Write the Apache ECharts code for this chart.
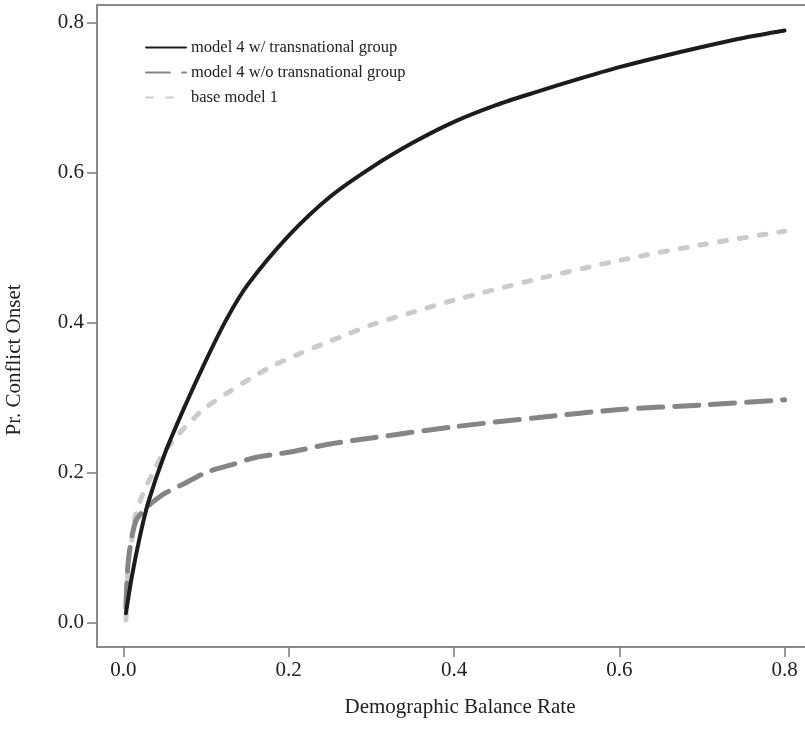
<!DOCTYPE html>
<html>
<head>
<meta charset="utf-8">
<script src="https://cdn.jsdelivr.net/npm/echarts@6/dist/echarts.min.js"></script>
<style>html,body{margin:0;padding:0;background:#fff;overflow:hidden}#c{width:805px;height:745px}</style>
</head>
<body>
<div id="c"></div>
<script>
var seriesNames = ['model 4 w/ transnational group', 'model 4 w/o transnational group', 'base model 1'];
var tickValues = [0, 0.2, 0.4, 0.6, 0.8];

var withGroup = [
  [0.003, 0.012], [0.01, 0.06], [0.02, 0.115], [0.03, 0.16], [0.05, 0.225], [0.075, 0.29],
  [0.1, 0.35], [0.125, 0.405], [0.15, 0.45], [0.2, 0.516], [0.25, 0.568], [0.3, 0.607],
  [0.35, 0.64], [0.4, 0.668], [0.45, 0.69], [0.5, 0.708], [0.55, 0.725], [0.6, 0.741],
  [0.65, 0.755], [0.7, 0.768], [0.75, 0.78], [0.8, 0.79]
];
var withoutGroup = [
  [0.003, 0.02], [0.005, 0.07], [0.008, 0.10], [0.015, 0.135], [0.025, 0.15], [0.035, 0.16],
  [0.05, 0.172], [0.075, 0.186], [0.1, 0.2], [0.13, 0.21], [0.16, 0.22], [0.2, 0.227],
  [0.25, 0.238], [0.3, 0.246], [0.4, 0.261], [0.5, 0.273], [0.6, 0.284], [0.7, 0.29], [0.8, 0.297]
];
var baseModel = [
  [0.003, 0.003], [0.006, 0.08], [0.01, 0.11], [0.014, 0.14], [0.024, 0.173], [0.036, 0.2],
  [0.048, 0.225], [0.066, 0.25], [0.083, 0.27], [0.1, 0.287], [0.127, 0.307], [0.153, 0.325],
  [0.18, 0.342], [0.21, 0.357], [0.24, 0.371], [0.27, 0.384], [0.3, 0.397], [0.35, 0.414],
  [0.4, 0.43], [0.5, 0.458], [0.6, 0.483], [0.7, 0.504], [0.8, 0.522]
];

var FONT = '"Liberation Serif", "DejaVu Serif", serif';
var FRAME = '#8a8a8a';
var chart = echarts.init(document.getElementById('c'), null, {renderer: 'canvas'});
var axisCommon = {
  axisLine: {show: true, onZero: false, lineStyle: {color: FRAME, width: 2}},
  splitLine: {show: false},
  axisTick: {show: true, length: 10, lineStyle: {color: '#7a7a7a', width: 1.5}, customValues: tickValues},
  axisLabel: {color: '#222', fontFamily: FONT, fontSize: 21, margin: 13, customValues: tickValues,
    formatter: function (v) { return v.toFixed(1); }}
};
chart.setOption({
  animation: false,
  backgroundColor: '#fff',
  grid: {left: 97, top: 5, right: -6, bottom: 98, outerBoundsMode: 'none', containLabel: false, show: false},
  legend: {
    orient: 'vertical', left: 140, top: 34, itemWidth: 40, itemHeight: 14, itemGap: 8,
    itemStyle: {color: 'rgba(0,0,0,0)', borderWidth: 0, opacity: 0},
    textStyle: {fontFamily: FONT, fontSize: 16.5, color: '#222'},
    data: seriesNames
  },
  xAxis: [
    Object.assign({}, axisCommon, {
      type: 'value', min: -0.032, max: 0.832, position: 'bottom',
      name: 'Demographic Balance Rate', nameLocation: 'middle', nameGap: 50,
      nameTextStyle: {fontFamily: FONT, fontSize: 21, color: '#222', padding: [0, 0, 0, 12]}
    }),
    {
      type: 'value', min: -0.032, max: 0.832, position: 'top',
      axisLine: {show: true, onZero: false, lineStyle: {color: FRAME, width: 2}},
      axisTick: {show: false}, axisLabel: {show: false}, splitLine: {show: false}
    }
  ],
  yAxis: Object.assign({}, axisCommon, {
    type: 'value', min: -0.033, max: 0.824, position: 'left',
    name: 'Pr. Conflict Onset', nameLocation: 'middle', nameGap: 72,
    nameTextStyle: {fontFamily: FONT, fontSize: 21, color: '#222', padding: [0, 68, 0, 0]}
  }),
  series: [
    {name: seriesNames[0], type: 'line', data: withGroup, symbol: 'none', smooth: 0.3,
      lineStyle: {color: '#1c1c1c', width: 4, cap: 'round'}, itemStyle: {color: '#1c1c1c'}, z: 3},
    {name: seriesNames[1], type: 'line', data: withoutGroup, symbol: 'none', smooth: 0.3,
      lineStyle: {color: '#858585', width: 5, type: [24, 12], cap: 'round'}, itemStyle: {color: '#858585'}, z: 2},
    {name: seriesNames[2], type: 'line', data: baseModel, symbol: 'none', smooth: 0.3,
      lineStyle: {color: '#cbcbcb', width: 5, type: [7, 13], cap: 'round'}, itemStyle: {color: '#cbcbcb'}, z: 1}
  ]
});
</script>
</body>
</html>
